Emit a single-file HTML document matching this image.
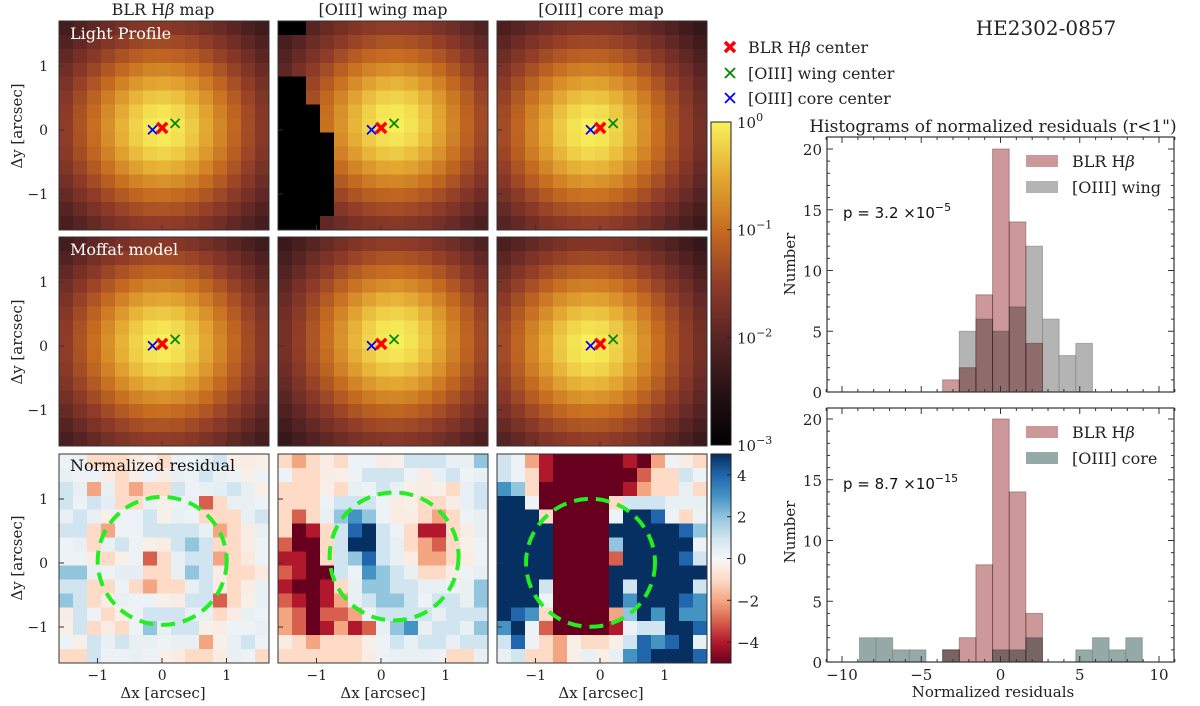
<!DOCTYPE html>
<html><head><meta charset="utf-8"><style>
body{margin:0;background:#fff}
svg{display:block;font-family:"DejaVu Serif","Liberation Serif",serif}
.sans{font-family:"DejaVu Sans","Liberation Sans",sans-serif}
</style></head><body>
<svg id="fig" xmlns="http://www.w3.org/2000/svg" width="1200" height="706" viewBox="0 0 1200 706">
<g id="maps" shape-rendering="crispEdges"></g>
<g id="overlay"></g>
<g id="hists"></g>
<g id="texts" font-size="16" fill="#222">
<text x="163" y="15" text-anchor="middle">BLR H<tspan font-style="italic">β</tspan> map</text>
<text x="383" y="15" text-anchor="middle">[OIII] wing map</text>
<text x="601" y="15" text-anchor="middle">[OIII] core map</text>
<text x="1046" y="35" text-anchor="middle" font-size="20">HE2302-0857</text>
<text x="993" y="132" text-anchor="middle" font-size="17">Histograms of normalized residuals (r&lt;1")</text>
<text x="70" y="39" fill="#fff">Light Profile</text>
<text x="70" y="255" fill="#fff">Moffat model</text>
<text x="70" y="471" fill="#111">Normalized residual</text>
<text transform="translate(22,126) rotate(-90)" text-anchor="middle" font-size="15">Δy [arcsec]</text>
<text transform="translate(22,342) rotate(-90)" text-anchor="middle" font-size="15">Δy [arcsec]</text>
<text transform="translate(22,558) rotate(-90)" text-anchor="middle" font-size="15">Δy [arcsec]</text>
<text x="163" y="698" text-anchor="middle" font-size="15">Δx [arcsec]</text>
<text x="383" y="698" text-anchor="middle" font-size="15">Δx [arcsec]</text>
<text x="601" y="698" text-anchor="middle" font-size="15">Δx [arcsec]</text>
<text transform="translate(795,264) rotate(-90)" text-anchor="middle" font-size="15">Number</text>
<text transform="translate(795,532) rotate(-90)" text-anchor="middle" font-size="15">Number</text>
<text x="993" y="697" text-anchor="middle" font-size="15">Normalized residuals</text>
<g>
<text x="748" y="53">BLR H<tspan font-style="italic">β</tspan> center</text>
<text x="748" y="79">[OIII] wing center</text>
<text x="748" y="104">[OIII] core center</text>
</g>
</g>
</svg>
<script>
// ---- data ----
const compNames = ['blr','wing','core'];
const centerX = [0.0, 0.2, -0.15];
const centerY = [0.03, 0.1, 0.0];
const moffatAlpha = [0.95, 0.95, 0.95];
const moffatBeta = [2.8, 2.8, 2.8];
const wingBlackCols = [2,0,0,0,2,2,3,3,4,4,4,4,4,4,3];
const resBLR = [
[0.3,0.4,-1,-1,-1,-0.5,-0.3,-1,0.4,0.3,0.5,1,-0.3,-0.4,-0.3],
[0.4,0.3,0.3,-0.4,-1,-0.3,0.3,-0.4,0.4,0.3,1,0.4,0.3,-0.3,0.3],
[1,0.4,-2,0.4,-1,-2,-1,-1,1,0.3,0.4,0.5,1,0.4,-0.3],
[1,0.3,1,0.5,-1,-1,0.4,-0.3,0.3,0.4,-3,-1,0.4,0.4,0.3],
[0.4,1,0.4,-0.3,0.3,0.3,1,-0.3,0.4,0.3,-1,-1,-1,0.4,1],
[1,1,-1,-2,0.3,0.3,1,1,1,1,0.4,-2,-1,-0.4,0.4],
[0.3,0.4,-1,0.4,1,0.3,-0.3,-0.4,1,2,1,-1,-1,-0.4,0.3],
[0.3,0.3,-0.4,-1,-0.3,0.3,-3,-1,0.4,1,1,-2,-1,-0.5,0.3],
[2,2,0.4,0.3,0.5,0.5,-1,-1,0.4,2,1,-0.4,-1,-1,-0.5],
[1,1,-1,-1,0.3,-1,-2,-1,-1,0.4,1,-0.4,-1,-0.4,0.4],
[2,1,-1,-0.4,0.4,0.3,0.3,-0.3,-0.4,1,1,-3,-1,-0.3,0.4],
[-0.4,1,0.3,-1,-0.3,0.3,1,1,1,0.4,0.4,-1,-0.4,0.4,0.3],
[-0.3,1,-1,-0.4,-1,0.3,2,0.4,1,1,-0.3,-0.4,0.3,0.3,0.4],
[0.3,-0.3,1,0.4,1,0.4,0.4,0.3,0.4,0.4,-2,-0.3,0.4,1,0.3],
[-1,-1,1,0.3,0.3,0.4,0.3,-0.3,-0.4,-1,-1,-0.4,0.4,0.3,-1]];
const resWing = [
[-1,-2,-1,-0.4,-1,0.3,0.3,-0.4,-0.3,1,1,1,0.4,0.4,2],
[0.3,-1,-1,-0.4,-0.3,0.3,1,1,1,0.3,-0.4,0.4,1,0.3,0.4],
[-1,-1,-1,-0.3,-1,0.4,0.3,1,0.4,-0.3,-0.4,-0.3,-1,0.4,1],
[-1,-1,-1,0.3,1,1,1,0.3,-0.4,-0.3,-1,-1,-0.4,0.4,1],
[-1,-3,-1,0.4,2,3,2,0.3,-0.4,-0.4,-1,-2,-1,0.3,0.4],
[-1,-5,-4,-1,1,4,5,1,0.3,-1,-4,-4,-1,-0.4,0.4],
[-3,-5,-5,-1,1,5,5,1,0.4,-1,-2,-3,-1,-0.3,0.3],
[-4,-4,-5,-1,1,2,4,1,0.4,-0.4,-2,-2,-1,-0.4,0.3],
[-3,-4,-5,-5,1,0.3,3,2,1,0.4,-1,-1,-0.4,0.3,0.4],
[-4,-5,-5,-4,-1,0.4,2,2,1,1,0.4,0.4,0.3,0.4,2],
[-3,-4,-5,-4,-2,0.4,1,2,2,1,0.3,1,1,0.4,2],
[-2,-3,-5,-3,-3,-2,0.3,1,1,1,1,0.4,1,1,1],
[-2,-3,-5,-4,-2,-4,-3,0.4,2,3,0.4,1,1,0.4,2],
[-0.4,-1,-2,-1,-1,-1,-0.3,0.3,1,0.4,1,1,0.4,1,1],
[-1,-1,-1,-1,-1,-1,-0.4,0.3,0.4,0.4,0.4,0.3,-1,-1,0.4]];
const resCore = [
[1,0.3,-2,-4,-5,-5,-5,-5,-5,-4,-5,-2,0.3,-0.4,-1],
[1,0.3,-1,-4,-5,-5,-5,-5,-5,-5,-3,-1,-1,1,0.3],
[3,2,-1,-5,-5,-5,-5,-5,-5,-4,-2,-1,-1,0.4,-1],
[5,5,0.3,-5,-5,-5,-5,-5,-1,1,1,1,0.4,0.4,0.4],
[5,5,5,-1,-5,-5,-5,-5,0.3,5,5,4,0.3,-1,0.3],
[5,5,5,5,-5,-5,-5,-5,5,5,5,5,5,4,2],
[5,5,5,5,-5,-5,-5,-5,2,5,5,5,5,5,0.3],
[5,5,5,5,-5,-5,-5,-5,-3,5,5,5,5,4,1],
[5,5,5,5,-5,-5,-5,-5,5,5,5,5,5,5,5],
[5,5,5,1,-5,-5,-5,-5,5,1,5,5,5,5,1],
[5,5,5,0.3,-5,-5,-5,-5,5,3,5,5,5,4,3],
[5,4,3,-1,-5,-5,-5,-5,-2,2,5,3,5,3,3],
[3,5,0.3,-3,-5,-5,-5,-5,-4,0.3,1,1,5,5,4],
[1,4,0.3,-1,-2,-0.3,-1,-1,-0.3,1,4,3,4,5,0.4],
[0.4,1,-1,-1,-2,-0.3,0.4,-0.3,0.4,3,4,5,5,5,4]];
const histBinWidth = 1.05;
const blrStart = -3.65;
const blrCounts = [1,2,8,20,14,4];
const wingStart = -2.6;
const wingCounts = [5,6,5,7,12,6,3,4];
const coreStart = -8.9;
const coreCounts = [2,2,1,1,0,1,0,0,1,1,2,0,0,1,2,1,2];
const histXTicks = [-10,-5,0,5,10];
const histYTicks = [0,5,10,15,20];
const mapTicks = [-1,0,1];
const cbarLogTicks = [0,-1,-2,-3];
const cbarResTicks = [4,2,0,-2,-4];

// ---- geometry ----
const NS='http://www.w3.org/2000/svg';
const colX=[59,278,497], rowY=[21,237,454], PW=210, PH=209, N=15;
const xMin=-1.6, yMax=1.7, pxPerX=64.5, pxPerY=64;
function mx(c,v){return colX[c]+(v-xMin)*pxPerX;}
function my(r,v){return rowY[r]+(yMax-v)*pxPerY;}
function mk(tag,attrs,parent){const e=document.createElementNS(NS,tag);for(const k in attrs)e.setAttribute(k,attrs[k]);parent.appendChild(e);return e;}
function lerpStops(stops,t){t=Math.max(0,Math.min(1,t));for(let i=1;i<stops.length;i++){if(t<=stops[i][0]){const a=stops[i-1],b=stops[i],f=(t-a[0])/(b[0]-a[0]);const c=[0,1,2].map(j=>Math.round(a[1][j]+(b[1][j]-a[1][j])*f));return `rgb(${c})`;}}return `rgb(${stops[stops.length-1][1]})`;}
const hotStops=[[0,[0,0,0]],[0.17,[40,18,20]],[0.333,[88,36,36]],[0.5,[145,60,40]],[0.667,[198,108,32]],[0.83,[228,168,50]],[1,[248,240,90]]];
const rdbuStops=[[0,[103,0,31]],[0.1,[178,24,43]],[0.2,[214,96,77]],[0.3,[244,165,130]],[0.4,[253,219,199]],[0.5,[247,247,247]],[0.6,[209,229,240]],[0.7,[146,197,222]],[0.8,[67,147,195]],[0.9,[33,102,172]],[1,[5,48,97]]];
function hot(v){return lerpStops(hotStops,(Math.log10(Math.max(v,1e-3))+3)/3);}
function rdbu(v){return lerpStops(rdbuStops,(v+5)/10);}

const maps=document.getElementById('maps');
const ov=document.getElementById('overlay');
const cw=PW/N, ch=PH/N;
const resAll=[resBLR,resWing,resCore];
for(let c=0;c<3;c++){
  for(let r=0;r<3;r++){
    const g=mk('g',{},maps);
    
    
    for(let i=0;i<N;i++)for(let j=0;j<N;j++){
      const xv=xMin+(j+0.5)*(PW/N)/pxPerX, yv=yMax-(i+0.5)*(PH/N)/pxPerY;
      let fill;
      if(r<2){
        const rr=Math.hypot(xv-centerX[c],yv-centerY[c]);
        let v=Math.pow(1+(rr/moffatAlpha[c])**2,-moffatBeta[c]);
        if(r===0&&c===1&&j<wingBlackCols[i])v=1e-4;
        fill=hot(v);
      } else fill=rdbu(resAll[c][i][j]);
      const cell=mk('rect',{x:colX[c]+j*cw,y:rowY[r]+i*ch,width:cw+0.6,height:ch+0.6,fill:fill},g);
      
      
    }
    const fr=mk('rect',{x:colX[c],y:rowY[r],width:PW,height:PH,fill:'none',stroke:'#333','stroke-width':1.2},g);
    
    
    for(const t of mapTicks){
      mk('line',{x1:mx(c,t),x2:mx(c,t),y1:rowY[r]+PH,y2:rowY[r]+PH-5,stroke:'#333'},g);
      mk('line',{x1:colX[c],x2:colX[c]+5,y1:my(r,t),y2:my(r,t),stroke:'#333'},g);
      if(r===2){const tx=mk('text',{x:mx(c,t),y:680,'text-anchor':'middle','font-size':14,fill:'#222'},g);tx.textContent=t<0?'−'+(-t):t;
        }
      if(c===0){const ty=mk('text',{x:48,y:my(r,t)+5,'text-anchor':'end','font-size':14,fill:'#222'},g);ty.textContent=t<0?'−'+(-t):t;
        }
    }
    if(r<2){
      const cols=['#ff0000','#008800','#0000ff'];
      for(let k=0;k<3;k++){
        const px=mx(c,centerX[k]),py=my(r,centerY[k]),s=k===0?5:4.5;
        const m=mk('path',{d:`M${px-s},${py-s}L${px+s},${py+s}M${px-s},${py+s}L${px+s},${py-s}`,stroke:cols[k],'stroke-width':k===0?3.5:1.8,fill:'none'},ov);
        
        
      }
    } else {
      const circ=mk('ellipse',{cx:mx(c,centerX[c]),cy:my(r,centerY[c]),rx:pxPerX,ry:pxPerY,fill:'none',stroke:'#22ee22','stroke-width':4,'stroke-dasharray':'14 8'},ov);
      
      
    }
  }
}
[['#ff0000',47,3.5],['#008800',73,1.8],['#0000ff',98,1.8]].forEach((m,k)=>{
  const p=mk('path',{d:`M725,${m[1]-5}L735,${m[1]+5}M725,${m[1]+5}L735,${m[1]-5}`,stroke:m[0],'stroke-width':m[2]},ov);
  
  
});
const cb1=mk('g',{},ov);


const cbX=711,cbW=20,cb1T=122,cb1B=445;
for(let y=cb1T;y<cb1B;y++){const t=1-(y-cb1T)/(cb1B-cb1T);mk('rect',{x:cbX,y:y,width:cbW,height:1.2,fill:lerpStops(hotStops,t)},cb1);}
mk('rect',{x:cbX,y:cb1T,width:cbW,height:cb1B-cb1T,fill:'none',stroke:'#222'},cb1);
for(const e of cbarLogTicks){const y=cb1T+(-e)/3*(cb1B-cb1T);
  const t=mk('text',{x:737,y:y+6,'font-size':15,fill:'#222'},cb1);t.innerHTML=`10<tspan dy="-7" font-size="11">${e===0?'0':'−'+(-e)}</tspan>`;
  mk('line',{x1:cbX+cbW,x2:cbX+cbW-4,y1:y,y2:y,stroke:'#222'},cb1);}
const cb2=mk('g',{},ov);


const cb2T=454,cb2B=663;
for(let y=cb2T;y<cb2B;y++){const t=1-(y-cb2T)/(cb2B-cb2T);mk('rect',{x:cbX,y:y,width:cbW,height:1.2,fill:lerpStops(rdbuStops,t)},cb2);}
mk('rect',{x:cbX,y:cb2T,width:cbW,height:cb2B-cb2T,fill:'none',stroke:'#222'},cb2);
for(const v of cbarResTicks){const y=cb2T+(5-v)/10*(cb2B-cb2T);
  const t=mk('text',{x:737,y:y+6,'font-size':15,fill:'#222'},cb2);t.textContent=v<0?'−'+(-v):v;
  mk('line',{x1:cbX+cbW,x2:cbX+cbW-4,y1:y,y2:y,stroke:'#222'},cb2);}

const hg=document.getElementById('hists');
const hxL=827,hxR=1174;
function hx(v){return 842+(v+10)*15.85;}
function drawHist(top,bottom,second,secondStart,secondColor,secondLabel,pText,pExp,nm){
  const g=mk('g',{},hg);
  
  
  const hy=c=>bottom-c*12.15;
  second.forEach((c,i)=>{if(!c)return;const x0=hx(secondStart+i*histBinWidth),x1=hx(secondStart+(i+1)*histBinWidth);
    const b=mk('rect',{x:x0,y:hy(c),width:x1-x0,height:bottom-hy(c),fill:secondColor,stroke:'rgba(120,120,120,0.5)','stroke-width':1},g);
    
    });
  blrCounts.forEach((c,i)=>{const x0=hx(blrStart+i*histBinWidth),x1=hx(blrStart+(i+1)*histBinWidth);
    const b=mk('rect',{x:x0,y:hy(c),width:x1-x0,height:bottom-hy(c),fill:'#cc9899',stroke:'rgba(120,80,80,0.5)','stroke-width':1,style:'mix-blend-mode:multiply'},g);
    
    });
  mk('rect',{x:hxL,y:top,width:hxR-hxL,height:bottom-top,fill:'none',stroke:'#333','stroke-width':1.2},g);
  for(let v=-11;v<=11;v++){const x=hx(v),L=v%5===0?6:3;
    mk('line',{x1:x,x2:x,y1:bottom,y2:bottom-L,stroke:'#333'},g);mk('line',{x1:x,x2:x,y1:top,y2:top+L,stroke:'#333'},g);}
  for(let c=0;c<=20;c++){const y=hy(c),L=c%5===0?6:3;
    mk('line',{x1:hxL,x2:hxL+L,y1:y,y2:y,stroke:'#333'},g);mk('line',{x1:hxR,x2:hxR-L,y1:y,y2:y,stroke:'#333'},g);}
  for(const c of histYTicks){const t=mk('text',{x:822,y:hy(c)+6,'text-anchor':'end','font-size':15,fill:'#222'},g);t.textContent=c;
    }
  const ly=top+18;
  const p1=mk('rect',{x:1026,y:ly,width:32,height:12,fill:'#cc9899'},g);
  
  mk('text',{x:1072,y:ly+12,'font-size':16,fill:'#222'},g).innerHTML='BLR H<tspan font-style="italic">β</tspan>';
  const p2=mk('rect',{x:1026,y:ly+26,width:32,height:12,fill:secondColor},g);
  
  mk('text',{x:1072,y:ly+38,'font-size':16,fill:'#222'},g).textContent=secondLabel;
  const pt=mk('text',{x:843,y:top+81,'font-size':15,fill:'#111',class:'sans'},g);
  pt.innerHTML=`p = ${pText} ×10<tspan dy="-7" font-size="11">${pExp}</tspan>`;
  
}
drawHist(137,392,wingCounts,wingStart,'#b4b4b4','[OIII] wing','3.2','−5','hist-wing');
drawHist(408,662,coreCounts,coreStart,'#95a9a7','[OIII] core','8.7','−15','hist-core');
for(const v of histXTicks){const t=mk('text',{x:hx(v),y:680,'text-anchor':'middle','font-size':15,fill:'#222'},hg);t.textContent=v<0?'−'+(-v):v;
  }
</script>
</body></html>
